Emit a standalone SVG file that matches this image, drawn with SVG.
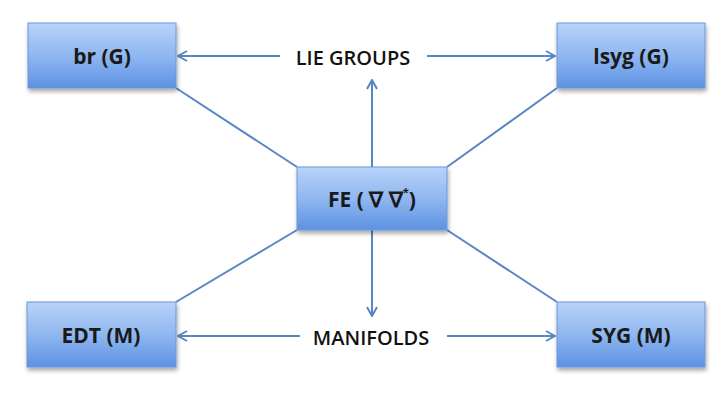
<svg xmlns="http://www.w3.org/2000/svg" width="727" height="403" viewBox="0 0 727 403">
<style>
.box{fill:url(#g);stroke:#6a98da;stroke-width:1}
.lbl{font-family:"Open Sans","Liberation Sans",sans-serif;font-weight:bold;font-size:21px;fill:#1a1a1a;text-anchor:middle;dominant-baseline:central}
.mid{font-family:"Open Sans","Liberation Sans",sans-serif;font-weight:600;font-size:20px;fill:#111;text-anchor:middle;dominant-baseline:central}
.ln{stroke:#5687c4;stroke-width:2;fill:none}
.ar{stroke:#5687c4;stroke-width:2;fill:none;marker-end:url(#ah)}
</style>
<defs>
<linearGradient id="g" x1="0" y1="0" x2="0" y2="1">
<stop offset="0" stop-color="#b8d3f8"/>
<stop offset="0.5" stop-color="#90b7f0"/>
<stop offset="1" stop-color="#5c92e3"/>
</linearGradient>
<filter id="sh" x="-10%" y="-10%" width="130%" height="140%">
<feDropShadow dx="1" dy="3" stdDeviation="2" flood-color="#000" flood-opacity="0.35"/>
</filter>
<marker id="ah" viewBox="0 0 12 12" refX="11" refY="6" markerWidth="12" markerHeight="12" markerUnits="userSpaceOnUse" orient="auto">
<polyline points="2,1 11,6 2,11" fill="none" stroke="#5687c4" stroke-width="2"/>
</marker>
</defs>
<g id="connectors">
<line class="ln" x1="176" y1="88" x2="297" y2="167"/>
<line class="ln" x1="557" y1="88" x2="447" y2="167"/>
<line class="ln" x1="176" y1="302" x2="297" y2="230"/>
<line class="ln" x1="557" y1="302" x2="447" y2="230"/>
<line class="ar" x1="280" y1="56" x2="178" y2="56"/>
<line class="ar" x1="427" y1="56" x2="555" y2="56"/>
<line class="ar" x1="372" y1="167" x2="372" y2="80"/>
<line class="ar" x1="372" y1="230" x2="372" y2="316"/>
<line class="ar" x1="300" y1="336" x2="178" y2="336"/>
<line class="ar" x1="447" y1="336" x2="555" y2="336"/>
<text class="mid" x="353" y="57">LIE GROUPS</text>
<text class="mid" x="371" y="337">MANIFOLDS</text>
</g>
<g id="br"><rect class="box" filter="url(#sh)" x="28" y="23" width="148" height="65"/><text class="lbl" x="102" y="56">br (G)</text></g>
<g id="lsyg"><rect class="box" filter="url(#sh)" x="557" y="23" width="148" height="65"/><text class="lbl" x="631" y="56">lsyg (G)</text></g>
<g id="fe"><rect class="box" filter="url(#sh)" x="297" y="167" width="150" height="63"/><text class="lbl" x="372" y="199">FE ( ∇ ∇<tspan font-size="11" dy="-8">*</tspan><tspan dy="8">)</tspan></text></g>
<g id="edt"><rect class="box" filter="url(#sh)" x="27" y="302" width="149" height="65"/><text class="lbl" x="101" y="335">EDT (M)</text></g>
<g id="syg"><rect class="box" filter="url(#sh)" x="557" y="302" width="148" height="65"/><text class="lbl" x="631" y="335">SYG (M)</text></g>
</svg>
